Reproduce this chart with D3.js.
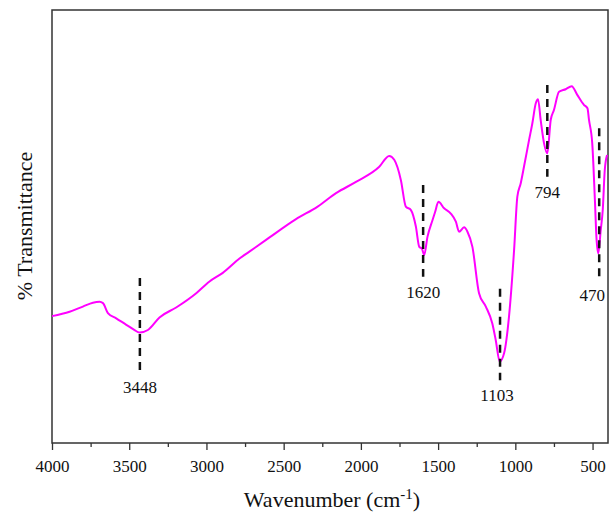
<!DOCTYPE html>
<html>
<head>
<meta charset="utf-8">
<script src="https://cdn.jsdelivr.net/npm/d3@7"></script>
<style>
  body { margin: 0; background: #fff; }
  svg text { font-family: "Liberation Serif", Tinos, Times, "DejaVu Serif", serif; fill: #111; }
</style>
</head>
<body>
<script>
// FTIR spectrum, wavenumber (cm-1) vs % transmittance (arbitrary units)
var wavenumber = [4000, 3886, 3800, 3735, 3692, 3670, 3638, 3584, 3519, 3470, 3433, 3379, 3304, 3196,
  3066, 2980, 2894, 2786, 2722, 2614, 2420, 2280, 2161, 2032, 1881, 1817, 1784, 1741, 1709,
  1676, 1644, 1622, 1605, 1590, 1569, 1536, 1519, 1498, 1461, 1418, 1385, 1364, 1332, 1310,
  1278, 1235, 1191, 1149, 1127, 1101, 1073, 1041, 1008, 987, 965, 944, 911, 890, 868, 853,
  836, 814, 793, 771, 750, 717, 674, 635, 599, 556, 533, 523, 502, 484, 475, 463, 447, 434, 421, 406];
var transmittance = [29.3, 30.3, 31.5, 32.4, 32.6, 32.3, 30.0, 28.8, 27.3, 26.2, 25.5, 26.1, 29.0, 31.3,
  34.6, 37.3, 39.3, 42.6, 44.2, 46.9, 51.7, 54.6, 57.7, 60.3, 63.8, 66.3, 65.4, 60.7, 54.6,
  53.8, 50.0, 45.3, 44.9, 43.4, 47.6, 51.5, 53.4, 55.7, 54.2, 53.0, 51.1, 48.8, 49.8, 48.8,
  45.3, 34.6, 31.5, 27.6, 23.8, 18.8, 20.7, 29.2, 44.6, 56.9, 60.0, 63.8, 70.0, 73.8, 78.4, 79.4,
  74.6, 69.2, 66.9, 74.6, 76.9, 81.1, 81.7, 82.4, 80.4, 78.1, 77.3, 74.6, 69.2, 55.4, 47.6, 43.8, 49.2, 53.8, 63.0, 66.5];

// peak markers
var peakLabels = ["3448", "1620", "1103", "794", "470"];
var peakPos = [3431, 1597, 1099, 793, 457];
var peakTop = [38.1, 59.6, 35.6, 82.7, 72.7];
var peakBottom = [16.4, 38.4, 14.5, 61.5, 37.6];

var xTicks = [4000, 3500, 3000, 2500, 2000, 1500, 1000, 500];
var xMinorTicks = [3750, 3250, 2750, 2250, 1750, 1250, 750];

var W = 613, H = 518;
var margin = { top: 10, right: 5, bottom: 75, left: 52 };
var serif = "'Liberation Serif', Tinos, Times, 'DejaVu Serif', serif";

var svg = d3.select("body").append("svg")
  .attr("width", W)
  .attr("height", H);

var x = d3.scaleLinear()
  .domain([4000, 400])
  .range([margin.left, W - margin.right]);

var y = d3.scaleLinear()
  .domain([0, 100])
  .range([H - margin.bottom + 0, margin.top]);

var data = wavenumber.map(function (d, i) { return { wn: d, t: transmittance[i] }; });

// minor ticks
svg.append("g")
  .attr("transform", "translate(0," + (H - margin.bottom) + ")")
  .call(d3.axisBottom(x).tickValues(xMinorTicks).tickSize(4).tickFormat(""))
  .call(function (g) { g.select(".domain").remove(); })
  .selectAll("line").attr("stroke", "#333").attr("stroke-width", 1.3);

// major ticks
var xAxis = svg.append("g")
  .attr("transform", "translate(0," + (H - margin.bottom) + ")")
  .call(d3.axisBottom(x).tickValues(xTicks).tickSize(7).tickPadding(10).tickFormat(d3.format("d")));
xAxis.attr("font-family", serif).attr("font-size", 17);
xAxis.select(".domain").remove();
xAxis.selectAll("line").attr("stroke", "#333").attr("stroke-width", 1.3);
xAxis.selectAll("text").attr("fill", "#111");

// frame
svg.append("rect")
  .attr("x", margin.left)
  .attr("y", margin.top)
  .attr("width", W - margin.left - margin.right)
  .attr("height", H - margin.top - margin.bottom)
  .attr("fill", "none")
  .attr("stroke", "#333")
  .attr("stroke-width", 1.5);

// spectrum
var line = d3.line()
  .x(function (d) { return x(d.wn); })
  .y(function (d) { return y(d.t); })
  .curve(d3.curveMonotoneX);

svg.append("path")
  .datum(data.slice().reverse())
  .attr("d", line)
  .attr("fill", "none")
  .attr("stroke", "#ff00ff")
  .attr("stroke-width", 2);

// dashed peak markers
var peaks = svg.selectAll(".peak")
  .data(peakLabels)
  .enter().append("g")
  .attr("class", "peak");

peaks.append("line")
  .attr("x1", function (d, i) { return x(peakPos[i]); })
  .attr("x2", function (d, i) { return x(peakPos[i]); })
  .attr("y1", function (d, i) { return y(peakTop[i]); })
  .attr("y2", function (d, i) { return y(peakBottom[i]); })
  .attr("stroke", "#111")
  .attr("stroke-width", 2.5)
  .attr("stroke-dasharray", "8,6");

peaks.append("text")
  .attr("x", function (d, i) { return x(peakPos[i]) - (i == 4 ? 7 : (i == 2 ? 3 : 0)); })
  .attr("y", function (d, i) { return y(peakBottom[i]) + 21; })
  .attr("text-anchor", "middle")
  .attr("font-family", serif)
  .attr("font-size", 17)
  .text(function (d) { return d; });

// axis titles
var xt = svg.append("text")
  .attr("x", 332)
  .attr("y", 507)
  .attr("text-anchor", "middle")
  .attr("font-family", serif)
  .attr("font-size", 22);
xt.append("tspan").text("Wavenumber (cm");
xt.append("tspan").attr("dy", -8).attr("font-size", 15).text("-1");
xt.append("tspan").attr("dy", 8).text(")");

svg.append("text")
  .attr("transform", "translate(32,226) rotate(-90)")
  .attr("text-anchor", "middle")
  .attr("font-family", serif)
  .attr("font-size", 22)
  .text("% Transmittance");
</script>
</body>
</html>
